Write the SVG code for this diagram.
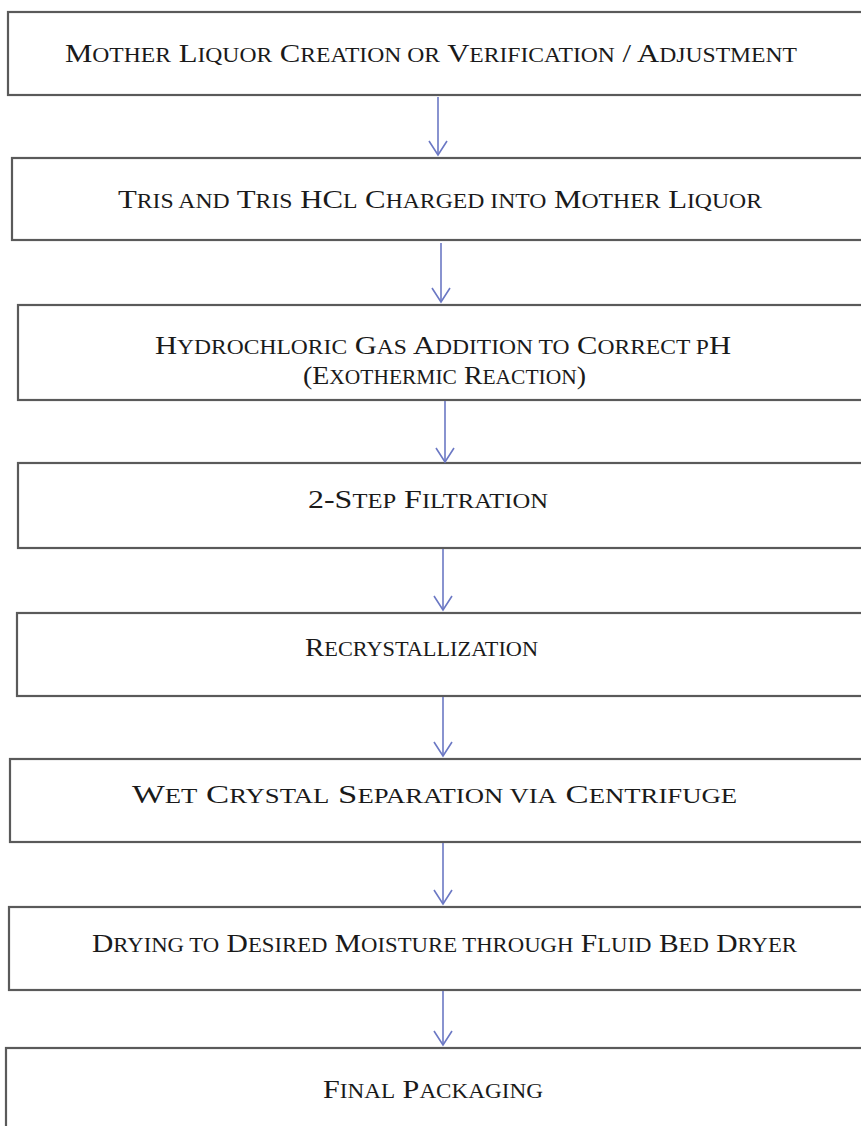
<svg xmlns="http://www.w3.org/2000/svg" width="861" height="1126" viewBox="0 0 861 1126">
<style>
.box{fill:#fff;stroke:#5a5a5a;stroke-width:2.2}
.lbl{font-family:"Liberation Serif","Times New Roman",serif;font-size:26px;fill:#1a1a1a}
.s{font-size:20px}
.arr{stroke:#6b78c4;stroke-width:1.6;fill:none}
</style>
<defs>
<marker id="ah" markerWidth="20" markerHeight="20" refX="16" refY="10" orient="auto" markerUnits="userSpaceOnUse" viewBox="0 0 20 20">
<path d="M2,1 L16,10 L2,19" fill="none" stroke="#6b78c4" stroke-width="1.6"/>
</marker>
</defs>
<rect width="861" height="1126" fill="#fff"/>
<g id="n1"><rect class="box" x="8" y="12" width="870" height="83"/>
<text class="lbl" x="65" y="62" textLength="732" lengthAdjust="spacingAndGlyphs">M<tspan class="s">OTHER</tspan> L<tspan class="s">IQUOR</tspan> C<tspan class="s">REATION OR</tspan> V<tspan class="s">ERIFICATION</tspan> / A<tspan class="s">DJUSTMENT</tspan></text></g>
<g id="n2"><rect class="box" x="12" y="158" width="866" height="82"/>
<text class="lbl" x="118" y="208" textLength="644" lengthAdjust="spacingAndGlyphs">T<tspan class="s">RIS AND</tspan> T<tspan class="s">RIS</tspan> HC<tspan class="s">L</tspan> C<tspan class="s">HARGED INTO</tspan> M<tspan class="s">OTHER</tspan> L<tspan class="s">IQUOR</tspan></text></g>
<g id="n3"><rect class="box" x="18" y="305" width="860" height="95"/>
<text class="lbl" x="155" y="354" textLength="576" lengthAdjust="spacingAndGlyphs">H<tspan class="s">YDROCHLORIC</tspan> G<tspan class="s">AS</tspan> A<tspan class="s">DDITION TO</tspan> C<tspan class="s">ORRECT P</tspan>H</text>
<text class="lbl" x="303" y="384" textLength="283" lengthAdjust="spacingAndGlyphs">(E<tspan class="s">XOTHERMIC</tspan> R<tspan class="s">EACTION</tspan>)</text></g>
<g id="n4"><rect class="box" x="18" y="463" width="860" height="85"/>
<text class="lbl" x="308" y="508" textLength="240" lengthAdjust="spacingAndGlyphs">2-S<tspan class="s">TEP</tspan> F<tspan class="s">ILTRATION</tspan></text></g>
<g id="n5"><rect class="box" x="17" y="613" width="861" height="83"/>
<text class="lbl" x="305" y="656" textLength="233" lengthAdjust="spacingAndGlyphs">R<tspan class="s">ECRYSTALLIZATION</tspan></text></g>
<g id="n6"><rect class="box" x="10" y="759" width="868" height="83"/>
<text class="lbl" x="132" y="803" textLength="605" lengthAdjust="spacingAndGlyphs">W<tspan class="s">ET</tspan> C<tspan class="s">RYSTAL</tspan> S<tspan class="s">EPARATION VIA</tspan> C<tspan class="s">ENTRIFUGE</tspan></text></g>
<g id="n7"><rect class="box" x="9" y="907" width="869" height="83"/>
<text class="lbl" x="92" y="952" textLength="705" lengthAdjust="spacingAndGlyphs">D<tspan class="s">RYING TO</tspan> D<tspan class="s">ESIRED</tspan> M<tspan class="s">OISTURE THROUGH</tspan> F<tspan class="s">LUID</tspan> B<tspan class="s">ED</tspan> D<tspan class="s">RYER</tspan></text></g>
<g id="n8"><rect class="box" x="6" y="1048" width="872" height="100"/>
<text class="lbl" x="323" y="1098" textLength="220" lengthAdjust="spacingAndGlyphs">F<tspan class="s">INAL</tspan> P<tspan class="s">ACKAGING</tspan></text></g>
<g id="connectors">
<line class="arr" x1="438" y1="97" x2="438" y2="155" marker-end="url(#ah)"/>
<line class="arr" x1="441" y1="243" x2="441" y2="302" marker-end="url(#ah)"/>
<line class="arr" x1="445" y1="401" x2="445" y2="462" marker-end="url(#ah)"/>
<line class="arr" x1="443" y1="549" x2="443" y2="610" marker-end="url(#ah)"/>
<line class="arr" x1="443" y1="697" x2="443" y2="756" marker-end="url(#ah)"/>
<line class="arr" x1="443" y1="843" x2="443" y2="904" marker-end="url(#ah)"/>
<line class="arr" x1="443" y1="991" x2="443" y2="1045" marker-end="url(#ah)"/>
</g>
</svg>
